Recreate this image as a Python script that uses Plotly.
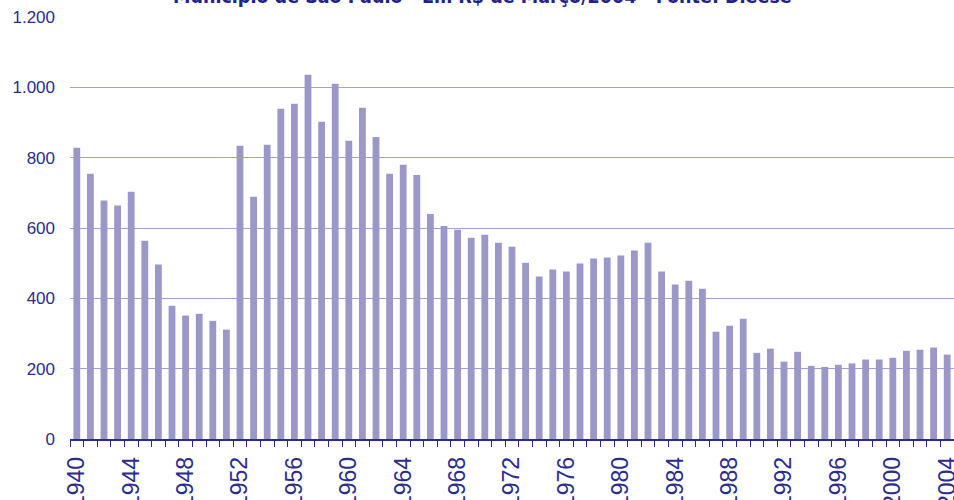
import plotly.graph_objects as go

years = list(range(1940, 2005))
values = [828, 754, 678, 664, 703, 564, 496, 379, 351, 356, 336, 311,
          834, 689, 837, 939, 953, 1036, 902, 1010, 848, 942, 859, 754,
          780, 751, 640, 606, 595, 572, 581, 558, 547, 501, 462, 482,
          476, 499, 513, 516, 522, 536, 558, 476, 439, 450, 427, 305,
          322, 342, 245, 257, 220, 248, 208, 205, 211, 215, 226, 226,
          231, 251, 254, 260, 240]
title_text = "Município de São Paulo - Em R$ de Março/2004 - Fonte: Dieese"
tick_labels = [str(y) if (y - 1940) % 4 == 0 else "" for y in years]
x_cats = [str(y) for y in years]

navy = "#2B2C8E"
bar_color = "#9C97C9"
grid_color = "#A3A1D3"

fig = go.Figure(go.Bar(x=x_cats, y=values, marker_color=bar_color,
                       marker_line_width=0))

fig.update_layout(
    width=954, height=500,
    margin=dict(l=70, r=0, t=17, b=61),
    paper_bgcolor="white", plot_bgcolor="white",
    bargap=0.5,
    separators=",.",
    showlegend=False,
    font=dict(family="Liberation Sans, Arial, sans-serif", color=navy),
)
fig.update_xaxes(
    type="category",
    tickmode="array", tickvals=x_cats, ticktext=tick_labels,
    tickson="boundaries",
    ticks="outside", ticklen=6, tickwidth=1, tickcolor=navy,
    showline=True, linecolor=navy, linewidth=1.5,
    tickangle=-90,
    tickfont=dict(size=23, color=navy),
    ticklabelstandoff=7,
    automargin=False,
    showgrid=False,
)
fig.update_yaxes(
    range=[0, 1200], dtick=200, tick0=0,
    tickformat=",d",
    showgrid=True, gridcolor=grid_color, gridwidth=1,
    zeroline=False, showline=False,
    ticks="",
    tickfont=dict(size=17, color=navy),
    ticklabelstandoff=14,
    automargin=False,
)
fig.add_annotation(
    text="<b>" + title_text + "</b>",
    xref="paper", yref="paper", x=0.467, y=1.017,
    xanchor="center", yanchor="bottom", showarrow=False,
    font=dict(family="Liberation Sans Narrow, DejaVu Sans Condensed, Arial Narrow, sans-serif",
              size=19.5, color="#222288"),
)
fig.write_html("out.html", config={"displayModeBar": False},
               post_script="document.body.style.margin='0';document.body.style.overflow='hidden';")
